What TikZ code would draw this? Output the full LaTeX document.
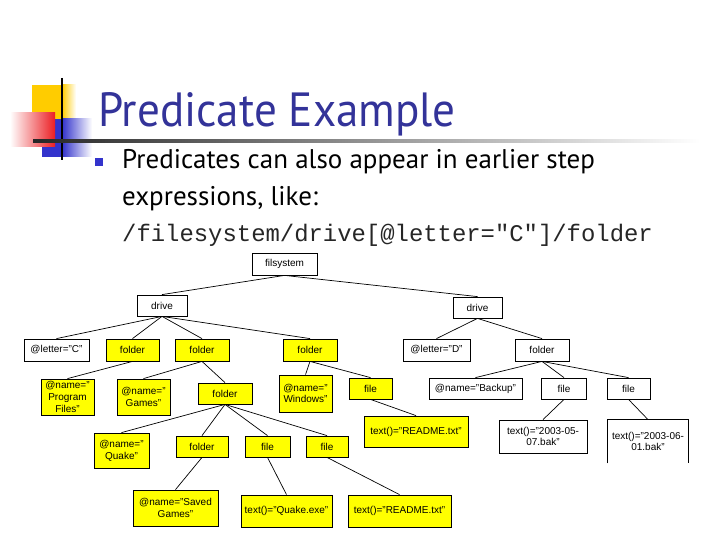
\documentclass[tikz,border=0pt]{standalone}
\usepackage{fontspec}
\setmainfont{Liberation Sans}
\newfontfamily\titlefont{PT Sans}
\newfontfamily\codefont{Liberation Mono}
\definecolor{titleblue}{RGB}{51,51,153}
\definecolor{decoyellow}{RGB}{255,204,0}
\definecolor{decored}{RGB}{235,30,35}
\definecolor{decoblue}{RGB}{51,51,204}
\definecolor{boxyellow}{RGB}{255,255,0}
\begin{document}
\begin{tikzpicture}[x=1pt,y=-1pt,
  treebox/.style={draw=black, line width=0.8pt, inner sep=1pt, align=center,
    font=\fontsize{10}{11.8}\selectfont},
  wbox/.style={treebox, fill=white},
  ybox/.style={treebox, fill=boxyellow},
  edge/.style={draw=black, line width=0.7pt}]
\useasboundingbox[fill=white] (0,0) rectangle (720,540);

% decoration
\fill[decoyellow] (32,85) rectangle (62,120);
\shade[left color=decoyellow, right color=white] (62,85) rectangle (76,120);
\fill[decoblue] (42,119) rectangle (62,157);
\shade[left color=decoblue, right color=white] (62,119) rectangle (92,157);
\shade[left color=white, right color=decored] (10,113) rectangle (55,147);
\draw[black, line width=1.6pt] (62,78) -- (62,160);
\shade[left color=black!85, right color=white] (33,139.5) rectangle (700,142.5);

% title and text
\node[anchor=base west, inner sep=0, text=titleblue, font=\titlefont\fontsize{48}{50}\selectfont] (title) at (98,127) {\scalebox{0.94}[1]{Predicate Example}};
\fill[decoblue] (95,158) rectangle (103,166);
\node[anchor=base west, inner sep=0, font=\titlefont\fontsize{27}{30}\selectfont] (line1) at (122,169) {Predicates can also appear in earlier step};
\node[anchor=base west, inner sep=0, font=\titlefont\fontsize{27}{30}\selectfont] (line2) at (122,206) {expressions, like:};
\node[anchor=base west, inner sep=0, text=black!85, font=\codefont\fontsize{23.9}{26}\selectfont] (code) at (122,241) {/filesystem/drive[@letter="C"]/folder};

% tree nodes
\node[wbox, minimum width=65pt, minimum height=22pt] (fs) at (284.5,264) {filsystem};
\node[wbox, minimum width=50pt, minimum height=21pt] (dL) at (162,305.5) {drive};
\node[wbox, minimum width=49pt, minimum height=21pt] (dR) at (477.5,307.5) {drive};

\node[wbox, minimum width=65pt, minimum height=22pt] (lc) at (56.5,350) {@letter="C"};
\node[ybox, minimum width=53pt, minimum height=22pt] (f1) at (132.5,350) {folder};
\node[ybox, minimum width=54pt, minimum height=22pt] (f2) at (202,350) {folder};
\node[ybox, minimum width=54pt, minimum height=22pt] (f3) at (310,350) {folder};
\node[wbox, minimum width=67pt, minimum height=22pt] (ld) at (436.5,350) {@letter="D"};
\node[wbox, minimum width=54pt, minimum height=22pt] (fR) at (542,350) {folder};

\node[ybox, minimum width=53pt, minimum height=36pt] (pf) at (67.5,397) {@name="\\Program\\Files"};
\node[ybox, minimum width=53pt, minimum height=36pt] (gm) at (143.5,397) {@name="\\Games"};
\node[ybox, minimum width=54pt, minimum height=21pt] (fm) at (225,393.5) {folder};
\node[ybox, minimum width=53pt, minimum height=37pt] (wn) at (305.5,393.5) {@name="\\Windows"};
\node[ybox, minimum width=43pt, minimum height=21pt] (fy) at (370.5,388.5) {file};
\node[wbox, minimum width=93pt, minimum height=21pt] (bk) at (475.5,388.5) {@name="Backup"};
\node[wbox, minimum width=45pt, minimum height=21pt] (fa) at (564,388.5) {file};
\node[wbox, minimum width=43pt, minimum height=21pt] (fb) at (628.5,388.5) {file};

\node[ybox, minimum width=104pt, minimum height=31pt] (rm) at (416,431.5) {text()="README.txt"};
\node[wbox, minimum width=88pt, minimum height=33pt] (ba) at (543,436.5) {text()="2003-05-\\07.bak"};
\node[treebox, draw=none, minimum width=80pt, minimum height=43pt] (bb) at (648,441.5) {text()="2003-06-\\01.bak"};
\draw[line width=0.8pt] (bb.south west) -- (bb.north west) -- (bb.north east) -- (bb.south east);

\node[ybox, minimum width=55pt, minimum height=35pt] (qk) at (121.5,450.5) {@name="\\Quake"};
\node[ybox, minimum width=52pt, minimum height=21pt] (fq) at (202,446.5) {folder};
\node[ybox, minimum width=45pt, minimum height=21pt] (ex) at (267.5,446.5) {file};
\node[ybox, minimum width=42pt, minimum height=21pt] (rd) at (327,446.5) {file};

\node[ybox, minimum width=85pt, minimum height=36pt] (sg) at (175.5,508) {@name="Saved\\Games"};
\node[ybox, minimum width=91pt, minimum height=32pt] (qe) at (286.5,511) {text()="Quake.exe"};
\node[ybox, minimum width=103pt, minimum height=32pt] (rt) at (399.5,511) {text()="README.txt"};

% connectors
\foreach \p/\c in {fs/dL, fs/dR, dL/lc, dL/f1, dL/f2, dL/f3, f1/pf, f2/gm, f2/fm,
  f3/wn, f3/fy, fy/rm, fm/qk, fm/fq, fm/ex, fm/rd, fq/sg, ex/qe, rd/rt,
  dR/ld, dR/fR, fR/bk, fR/fa, fR/fb, fa/ba, fb/bb}
  \draw[edge] (\p.south) -- (\c.north);
\end{tikzpicture}
\end{document}
